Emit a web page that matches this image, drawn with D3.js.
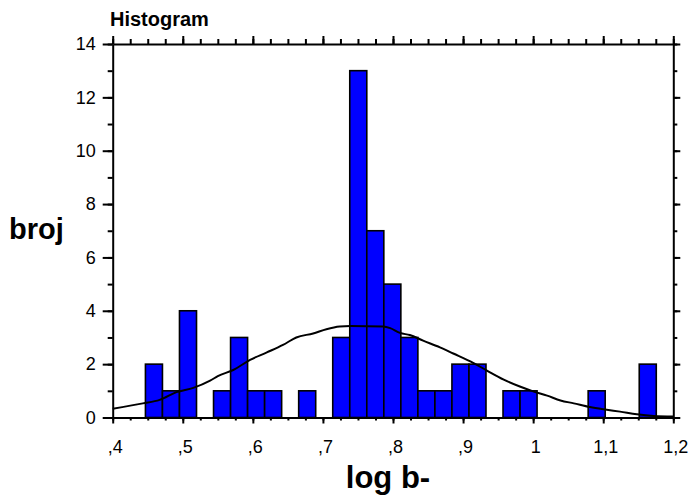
<!DOCTYPE html>
<html>
<head>
<meta charset="utf-8" />
<script src="https://cdn.jsdelivr.net/npm/d3@7"></script>
<style>
    body { margin: 0; background: #fff; }
    svg { display: block; font-family: "Liberation Sans", Arial, sans-serif; }
    .axis text { font-size: 18px; fill: #000; }
    .axis path, .axis line { stroke: #000; stroke-width: 2; }
</style>
</head>
<body>
<svg id="chart" width="691" height="497"></svg>
<script>
// histogram counts, equal bins starting at binStart
var binStart = 0.4467,
    binWidth = 0.0243;
var counts = [2, 1, 4, 0, 1, 3, 1, 1, 0, 1, 0, 3, 13, 7, 5, 3, 1, 1, 2, 2, 0, 1, 1, 0, 0, 0, 1, 0, 0, 2];

// fitted curve
var curveX = [0.40, 0.443, 0.467, 0.491, 0.515, 0.539, 0.550, 0.572, 0.596, 0.620, 0.643, 0.662, 0.686, 0.705, 0.724,
              0.739, 0.786, 0.796, 0.810, 0.824, 0.843, 0.867, 0.886, 0.915, 0.934, 0.958, 0.981, 1.000, 1.020,
              1.039, 1.058, 1.081, 1.105, 1.124, 1.148, 1.172, 1.200];
var curveY = [0.33, 0.53, 0.66, 0.95, 1.11, 1.38, 1.55, 1.78, 2.16, 2.44, 2.72, 3.00, 3.15, 3.31, 3.41,
              3.43, 3.41, 3.35, 3.17, 3.09, 2.88, 2.63, 2.40, 2.04, 1.76, 1.42, 1.16, 0.98, 0.82,
              0.64, 0.53, 0.39, 0.29, 0.22, 0.12, 0.06, 0.04];

var xTicks = [0.4, 0.5, 0.6, 0.7, 0.8, 0.9, 1.0, 1.1, 1.2];
var yTicks = [0, 2, 4, 6, 8, 10, 12, 14];

var svg = d3.select('#chart');

var x = d3.scaleLinear().domain([0.4, 1.2]).range([112.7, 673.3]);
var y = d3.scaleLinear().domain([0, 14]).range([417.5, 44]);

var xMinor = d3.range(0, 33).map(function(i) { return 0.4 + i * 0.025; });
var yMinor = d3.range(0, 15);

function xFmt(v) {
    return String(+v.toFixed(1)).replace(/^0\./, ',').replace('.', ',');
}

// bars
var bars = counts.map(function(c, i) {
    return { x0: binStart + i * binWidth, x1: binStart + (i + 1) * binWidth, n: c };
}).filter(function(d) { return d.n > 0; });

svg.append('g').selectAll('rect').data(bars).enter().append('rect')
    .attr('x', function(d) { return x(d.x0); })
    .attr('y', function(d) { return y(d.n); })
    .attr('width', function(d) { return x(d.x1) - x(d.x0); })
    .attr('height', function(d) { return y(0) - y(d.n); })
    .attr('fill', '#0000ff')
    .attr('stroke', '#000')
    .attr('stroke-width', 1.6);

// curve
var line = d3.line()
    .x(function(d, i) { return x(curveX[i]); })
    .y(function(d) { return y(d); })
    .curve(d3.curveMonotoneX);

svg.append('path').datum(curveY)
    .attr('d', line)
    .attr('fill', 'none')
    .attr('stroke', '#000')
    .attr('stroke-width', 2);

// axes: minor ticks first, then major
function addAxis(axis, tf) {
    return svg.append('g').attr('class', 'axis').attr('transform', tf).call(axis);
}

addAxis(d3.axisBottom(x).tickValues(xMinor).tickSize(3).tickFormat(''), 'translate(0,' + y(0) + ')').select('.domain').remove();
addAxis(d3.axisBottom(x).tickValues(xTicks).tickSizeInner(6).tickSizeOuter(0).tickPadding(17).tickFormat(xFmt), 'translate(0,' + y(0) + ')')
    .selectAll('text').attr('dx', 2);

addAxis(d3.axisTop(x).tickValues(xMinor).tickSize(5).tickFormat(''), 'translate(0,' + y(14) + ')').select('.domain').remove();
addAxis(d3.axisTop(x).tickValues(xTicks).tickSizeInner(8).tickSizeOuter(0).tickFormat(''), 'translate(0,' + y(14) + ')');

addAxis(d3.axisLeft(y).tickValues(yMinor).tickSize(5).tickFormat(''), 'translate(' + x(0.4) + ',0)').select('.domain').remove();
addAxis(d3.axisLeft(y).tickValues(yTicks).tickSizeInner(10).tickSizeOuter(0).tickPadding(7).tickFormat(d3.format('d')), 'translate(' + x(0.4) + ',0)');

addAxis(d3.axisRight(y).tickValues(yMinor).tickSize(4).tickFormat(''), 'translate(' + x(1.2) + ',0)').select('.domain').remove();
addAxis(d3.axisRight(y).tickValues(yTicks).tickSizeInner(7).tickSizeOuter(0).tickFormat(''), 'translate(' + x(1.2) + ',0)');

// titles
svg.append('text').attr('x', 110).attr('y', 25.5)
    .style('font-size', '20px').style('font-weight', 'bold').text('Histogram');

svg.append('text').attr('x', 9).attr('y', 239)
    .style('font-size', '29px').style('font-weight', 'bold').text('broj');

svg.append('text').attr('x', 388).attr('y', 488).attr('text-anchor', 'middle')
    .style('font-size', '31px').style('font-weight', 'bold').text('log b-');
</script>
</body>
</html>
